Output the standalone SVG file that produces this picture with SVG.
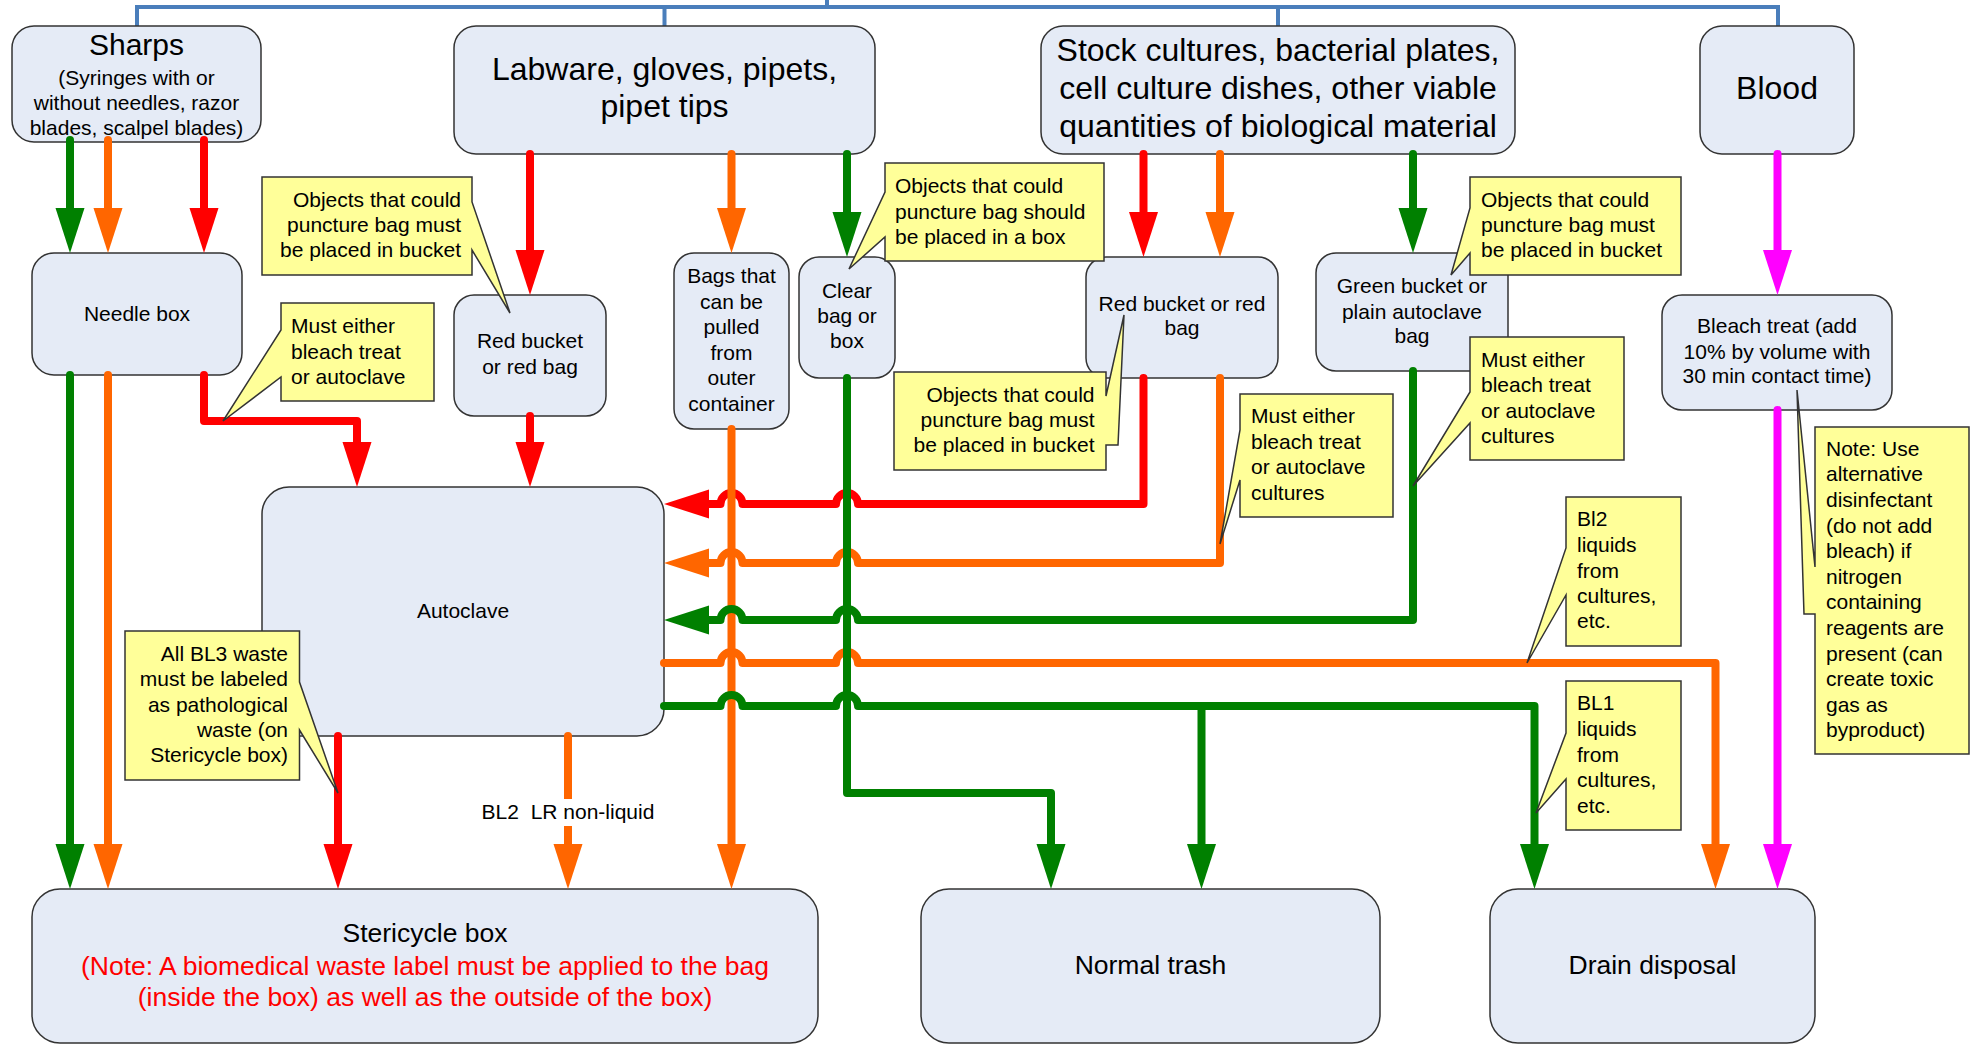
<svg xmlns="http://www.w3.org/2000/svg" width="1975" height="1045" viewBox="0 0 1975 1045">
<style>
.box{fill:#E5EBF6;stroke:#333;stroke-width:1.5}
.call{fill:#FFFF99;stroke:#333;stroke-width:1.5;stroke-linejoin:miter}
.t{font-family:"Liberation Sans",Arial,sans-serif;font-size:21px;fill:#000}
.m{text-anchor:middle}
.e{text-anchor:end}
.big{font-size:32px}
.hd{font-size:30px}
.mid{font-size:26.5px}
.red{fill:#FF0000}
.ln{fill:none;stroke-width:8;stroke-linecap:round;stroke-linejoin:round}
.r{stroke:#FF0000}.o{stroke:#FF6600}.g{stroke:#008000}.p{stroke:#FF00FF}
</style>
<defs>
<marker id="ar" viewBox="0 -15 45 30" refX="0" refY="0" markerWidth="45" markerHeight="30" markerUnits="userSpaceOnUse" orient="auto"><path d="M0,-14.5 L45,0 L0,14.5 z" fill="#FF0000"/></marker>
<marker id="ao" viewBox="0 -15 45 30" refX="0" refY="0" markerWidth="45" markerHeight="30" markerUnits="userSpaceOnUse" orient="auto"><path d="M0,-14.5 L45,0 L0,14.5 z" fill="#FF6600"/></marker>
<marker id="ag" viewBox="0 -15 45 30" refX="0" refY="0" markerWidth="45" markerHeight="30" markerUnits="userSpaceOnUse" orient="auto"><path d="M0,-14.5 L45,0 L0,14.5 z" fill="#008000"/></marker>
<marker id="ap" viewBox="0 -15 45 30" refX="0" refY="0" markerWidth="45" markerHeight="30" markerUnits="userSpaceOnUse" orient="auto"><path d="M0,-14.5 L45,0 L0,14.5 z" fill="#FF00FF"/></marker>
</defs>
<rect width="1975" height="1045" fill="#fff"/>

<g id="bracket" fill="none" stroke="#4A7EBB" stroke-width="4">
<path d="M137,27 V7 H1778 V27"/>
<path d="M664.5,7 V27 M1278,7 V27 M827,7 V0"/>
</g>

<g id="n-sharps"><rect class="box" x="12" y="26" width="249" height="116" rx="22"/>
<text class="t m hd" x="136.5" y="55">Sharps</text>
<text class="t m" x="136.5" y="85">(Syringes with or</text>
<text class="t m" x="136.5" y="110">without needles, razor</text>
<text class="t m" x="136.5" y="135">blades, scalpel blades)</text></g>

<g id="n-labware"><rect class="box" x="454" y="26" width="421" height="128" rx="22"/>
<text class="t m big" x="664.5" y="80">Labware, gloves, pipets,</text>
<text class="t m big" x="664.5" y="117">pipet tips</text></g>

<g id="n-stock"><rect class="box" x="1041" y="26" width="474" height="128" rx="22"/>
<text class="t m big" x="1278" y="61">Stock cultures, bacterial plates,</text>
<text class="t m big" x="1278" y="99">cell culture dishes, other viable</text>
<text class="t m big" x="1278" y="137">quantities of biological material</text></g>

<g id="n-blood"><rect class="box" x="1700" y="26" width="154" height="128" rx="22"/>
<text class="t m big" x="1777" y="99">Blood</text></g>

<g id="n-needle"><rect class="box" x="32" y="253" width="210" height="122" rx="22"/>
<text class="t m" x="137" y="321">Needle box</text></g>

<g id="n-redbucket1"><rect class="box" x="454" y="295" width="152" height="121" rx="20"/>
<text class="t m" x="530" y="348">Red bucket</text>
<text class="t m" x="530" y="374">or red bag</text></g>

<g id="n-bags"><rect class="box" x="674" y="253" width="115" height="176" rx="20"/>
<text class="t m" x="731.5" y="283">Bags that</text>
<text class="t m" x="731.5" y="308.6">can be</text>
<text class="t m" x="731.5" y="334.2">pulled</text>
<text class="t m" x="731.5" y="359.8">from</text>
<text class="t m" x="731.5" y="385.4">outer</text>
<text class="t m" x="731.5" y="411">container</text></g>

<g id="n-clear"><rect class="box" x="799" y="257" width="96" height="121" rx="20"/>
<text class="t m" x="847" y="298">Clear</text>
<text class="t m" x="847" y="323">bag or</text>
<text class="t m" x="847" y="348">box</text></g>

<g id="n-redbucket2"><rect class="box" x="1086" y="257" width="192" height="121" rx="20"/>
<text class="t m" x="1182" y="311">Red bucket or red</text>
<text class="t m" x="1182" y="335">bag</text></g>

<g id="n-green"><rect class="box" x="1316" y="253" width="192" height="118" rx="20"/>
<text class="t m" x="1412" y="293">Green bucket or</text>
<text class="t m" x="1412" y="319">plain autoclave</text>
<text class="t m" x="1412" y="343">bag</text></g>

<g id="n-bleach"><rect class="box" x="1662" y="295" width="230" height="115" rx="20"/>
<text class="t m" x="1777" y="333">Bleach treat (add</text>
<text class="t m" x="1777" y="359">10% by volume with</text>
<text class="t m" x="1777" y="383">30 min contact time)</text></g>

<g id="n-autoclave"><rect class="box" x="262" y="487" width="402" height="249" rx="27"/>
<text class="t m" x="463" y="618">Autoclave</text></g>

<g id="n-stericycle"><rect class="box" x="32" y="889" width="786" height="154" rx="28"/>
<text class="t m mid" x="425" y="942">Stericycle box</text>
<text class="t m mid red" x="425" y="975">(Note: A biomedical waste label must be applied to the bag</text>
<text class="t m mid red" x="425" y="1006">(inside the box) as well as the outside of the box)</text></g>

<g id="n-normal"><rect class="box" x="921" y="889" width="459" height="154" rx="28"/>
<text class="t m mid" x="1150.5" y="974">Normal trash</text></g>

<g id="n-drain"><rect class="box" x="1490" y="889" width="325" height="154" rx="28"/>
<text class="t m mid" x="1652.5" y="974">Drain disposal</text></g>

<g id="connectors">
<path class="ln r" marker-end="url(#ar)" d="M204,140 V208"/>
<path class="ln r" marker-end="url(#ar)" d="M204,375 V421 H357 V442"/>
<path class="ln r" marker-end="url(#ar)" d="M530,154 V250"/>
<path class="ln r" marker-end="url(#ar)" d="M530,416 V442"/>
<path class="ln r" marker-end="url(#ar)" d="M1143.5,154 V212"/>
<path class="ln r" marker-end="url(#ar)" d="M1143.5,378 V504 H858 A11,11 0 0 0 836,504 H742.5 A11,11 0 0 0 720.5,504 H709"/>
<path class="ln r" marker-end="url(#ar)" d="M338,736 V844"/>

<path class="ln o" marker-end="url(#ao)" d="M108,140 V208"/>
<path class="ln o" marker-end="url(#ao)" d="M108,375 V844"/>
<path class="ln o" marker-end="url(#ao)" d="M731.5,154 V208"/>
<path class="ln o" marker-end="url(#ao)" d="M731.5,429 V844"/>
<path class="ln o" marker-end="url(#ao)" d="M1220,154 V212"/>
<path class="ln o" marker-end="url(#ao)" d="M1220,378 V563 H858 A11,11 0 0 0 836,563 H742.5 A11,11 0 0 0 720.5,563 H709"/>
<path class="ln o" marker-end="url(#ao)" d="M664,663 H720.5 A11,11 0 0 1 742.5,663 H836 A11,11 0 0 1 858,663 H1715.5 V844"/>
<path class="ln o" marker-end="url(#ao)" d="M568,736 V844"/>

<path class="ln g" marker-end="url(#ag)" d="M70,140 V208"/>
<path class="ln g" marker-end="url(#ag)" d="M70,375 V844"/>
<path class="ln g" marker-end="url(#ag)" d="M847,154 V212"/>
<path class="ln g" marker-end="url(#ag)" d="M847,378 V793 H1051 V844"/>
<path class="ln g" marker-end="url(#ag)" d="M1413,154 V208"/>
<path class="ln g" marker-end="url(#ag)" d="M1413,371 V620 H858 A11,11 0 0 0 836,620 H742.5 A11,11 0 0 0 720.5,620 H709"/>
<path class="ln g" marker-end="url(#ag)" d="M664,706 H720.5 A11,11 0 0 1 742.5,706 H836 A11,11 0 0 1 858,706 H1534.5 V844"/>
<path class="ln g" marker-end="url(#ag)" d="M1201.5,706 V844"/>

<path class="ln p" marker-end="url(#ap)" d="M1777.5,154 V250"/>
<path class="ln p" marker-end="url(#ap)" d="M1777.5,410 V844"/>

<rect x="478" y="799" width="180" height="27" fill="#fff"/>
<text class="t m" x="568" y="819" xml:space="preserve">BL2  LR non-liquid</text>
</g>

<g id="c-puncture1"><path class="call" d="M262,177 H472 V202 L510,313 L472,250 V275 H262 Z"/>
<text class="t e" x="461" y="207">Objects that could</text>
<text class="t e" x="461" y="232">puncture bag must</text>
<text class="t e" x="461" y="257">be placed in bucket</text></g>

<g id="c-either1"><path class="call" d="M281,303 H434 V401 H281 V377 L223,421 L281,330 Z"/>
<text class="t" x="291" y="333">Must either</text>
<text class="t" x="291" y="359">bleach treat</text>
<text class="t" x="291" y="384">or autoclave</text></g>

<g id="c-box"><path class="call" d="M885,163 H1104 V261 H885 V237 L849,269 L885,192 Z"/>
<text class="t" x="895" y="193">Objects that could</text>
<text class="t" x="895" y="219">puncture bag should</text>
<text class="t" x="895" y="244">be placed in a box</text></g>

<g id="c-puncture2"><path class="call" d="M894,372 H1106 V396 L1124,315 L1118,445 H1106 V470 H894 Z"/>
<text class="t e" x="1094.5" y="402">Objects that could</text>
<text class="t e" x="1094.5" y="427">puncture bag must</text>
<text class="t e" x="1094.5" y="452">be placed in bucket</text></g>

<g id="c-either2"><path class="call" d="M1240,394 H1393 V517 H1240 V480 L1220,544 L1240,430 Z"/>
<text class="t" x="1251" y="423">Must either</text>
<text class="t" x="1251" y="449">bleach treat</text>
<text class="t" x="1251" y="474">or autoclave</text>
<text class="t" x="1251" y="500">cultures</text></g>

<g id="c-puncture3"><path class="call" d="M1470,177 H1681 V275 H1470 V253 L1451,275 L1470,208 Z"/>
<text class="t" x="1481" y="207">Objects that could</text>
<text class="t" x="1481" y="232">puncture bag must</text>
<text class="t" x="1481" y="257">be placed in bucket</text></g>

<g id="c-either3"><path class="call" d="M1470,337 H1624 V460 H1470 V423 L1413,486 L1470,392 Z"/>
<text class="t" x="1481" y="367">Must either</text>
<text class="t" x="1481" y="392">bleach treat</text>
<text class="t" x="1481" y="418">or autoclave</text>
<text class="t" x="1481" y="443">cultures</text></g>

<g id="c-bl2"><path class="call" d="M1566,497 H1681 V646 H1566 V595 L1527,663 L1566,548 Z"/>
<text class="t" x="1577" y="526">Bl2</text>
<text class="t" x="1577" y="552">liquids</text>
<text class="t" x="1577" y="578">from</text>
<text class="t" x="1577" y="603">cultures,</text>
<text class="t" x="1577" y="628">etc.</text></g>

<g id="c-bl1"><path class="call" d="M1566,681 H1681 V830 H1566 V779 L1536,813 L1566,733 Z"/>
<text class="t" x="1577" y="710">BL1</text>
<text class="t" x="1577" y="736">liquids</text>
<text class="t" x="1577" y="762">from</text>
<text class="t" x="1577" y="787">cultures,</text>
<text class="t" x="1577" y="813">etc.</text></g>

<g id="c-note"><path class="call" d="M1815,427 H1969 V754 H1815 V614 H1804 L1797,390 L1815,567 Z"/>
<text class="t" x="1826" y="456">Note: Use</text>
<text class="t" x="1826" y="481">alternative</text>
<text class="t" x="1826" y="507">disinfectant</text>
<text class="t" x="1826" y="533">(do not add</text>
<text class="t" x="1826" y="558">bleach) if</text>
<text class="t" x="1826" y="584">nitrogen</text>
<text class="t" x="1826" y="609">containing</text>
<text class="t" x="1826" y="635">reagents are</text>
<text class="t" x="1826" y="661">present (can</text>
<text class="t" x="1826" y="686">create toxic</text>
<text class="t" x="1826" y="712">gas as</text>
<text class="t" x="1826" y="737">byproduct)</text></g>

<g id="c-bl3"><path class="call" d="M125,631 H299.5 V682 L338,793 L299.5,730 V780 H125 Z"/>
<text class="t e" x="288" y="661">All BL3 waste</text>
<text class="t e" x="288" y="686">must be labeled</text>
<text class="t e" x="288" y="712">as pathological</text>
<text class="t e" x="288" y="737">waste (on</text>
<text class="t e" x="288" y="762">Stericycle box)</text></g>
</svg>
